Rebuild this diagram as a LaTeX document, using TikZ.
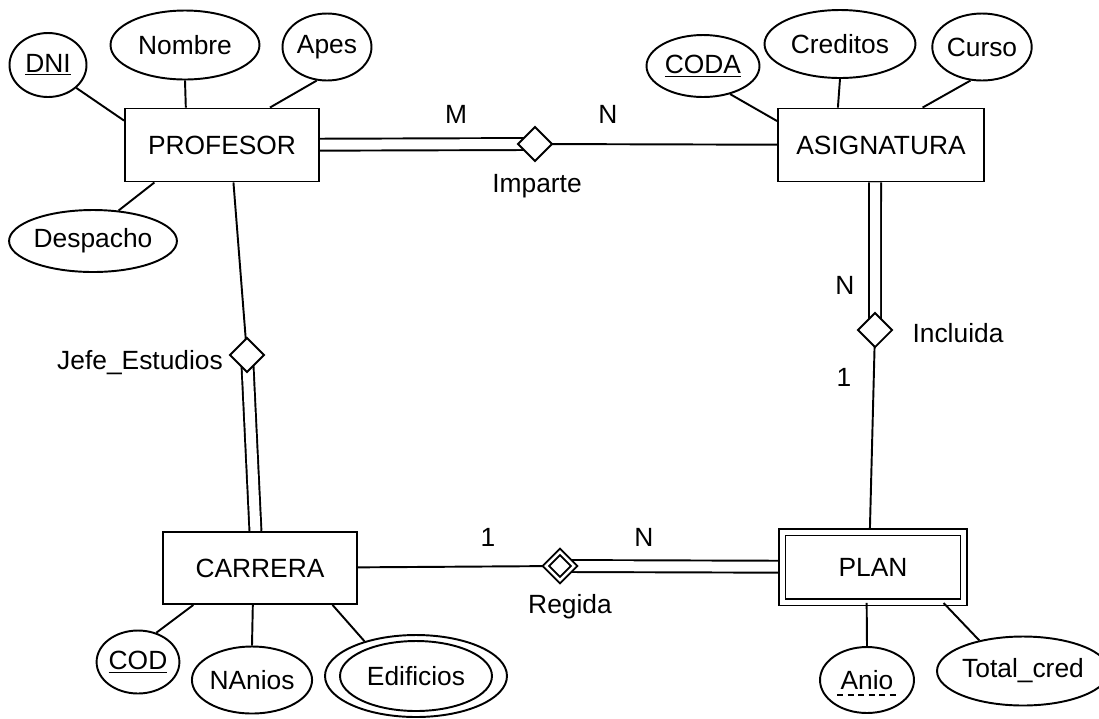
\documentclass[tikz,border=0pt]{standalone}
\usepackage{fontspec}
\setmainfont{Liberation Sans}
\usetikzlibrary{shapes.geometric,backgrounds}

\begin{document}
\begin{tikzpicture}[x=0.02cm,y=-0.02cm,line width=1.1pt,
  every node/.style={font=\fontsize{15}{18}\selectfont},
  entity/.style={draw,fill=white,rectangle,inner sep=0pt},
  attrib/.style={draw,fill=white,ellipse,inner sep=0pt},
  relation/.style={draw,fill=white,diamond,inner sep=0pt,minimum size=0.7cm},
  twoline/.style={double,double distance=0.2cm}]
\useasboundingbox (0,0) rectangle (1099,718);

% Entities
\node[entity,minimum width=3.88cm,minimum height=1.46cm] (profesor) at (222,145) {PROFESOR};
\node[entity,minimum width=4.12cm,minimum height=1.46cm] (asignatura) at (881,145) {ASIGNATURA};
\node[entity,minimum width=3.88cm,minimum height=1.44cm] (carrera) at (260,568) {CARRERA};
\node[entity,double,double distance=0.1cm,minimum width=3.64cm,minimum height=1.4cm] (plan) at (873,567) {PLAN};

% Relationships
\node[relation] (imparte) at (535,144) {};
\node[relation] (jefe) at (247,355) {};
\node[relation] (incluida) at (875,330) {};
\node[relation,double,double distance=0.05cm,minimum size=0.58cm] (regida) at (560,566) {};

% Attributes of PROFESOR
\node[attrib,minimum width=1.54cm,minimum height=1.28cm] (dni) at (48,65) {\underline{DNI}};
\node[attrib,minimum width=2.98cm,minimum height=1.38cm] (nombre) at (185,45) {Nombre};
\node[attrib,minimum width=1.78cm,minimum height=1.34cm] (apes) at (327,47) {Apes};
\node[attrib,minimum width=3.14cm,minimum height=1.24cm] (despacho) at (93,241) {Despacho};

% Attributes of ASIGNATURA
\node[attrib,minimum width=2.26cm,minimum height=1.24cm] (coda) at (703,66) {\underline{CODA}};
\node[attrib,minimum width=3.02cm,minimum height=1.36cm] (creditos) at (840,44) {Creditos};
\node[attrib,minimum width=1.84cm,minimum height=1.34cm] (curso) at (982,47) {Curso};

% Attributes of CARRERA
\node[attrib,minimum width=1.52cm,minimum height=1.26cm] (cod) at (138,662) {\underline{COD}};
\node[attrib,minimum width=2.38cm,minimum height=1.34cm] (nanios) at (252,680) {NAnios};
\node[attrib,minimum width=3.64cm,minimum height=1.64cm] (edificios) at (416,676) {Edificios};
\draw (edificios.center) ellipse [x radius=1.52cm, y radius=0.7cm];

% Attributes of PLAN
\node[attrib,minimum width=1.88cm,minimum height=1.32cm] (anio) at (867,680) {Anio};
\draw[dash pattern=on 3.5pt off 2.5pt] ([shift={(-30,15)}]anio.center) -- ([shift={(30,15)}]anio.center);
\node[attrib,minimum width=2.96cm,minimum height=1.38cm] (totalcred) at (1023,671) {Total\_cred};

% Relationship connectors
\begin{scope}[on background layer={line width=1.1pt}]
\draw[twoline] (profesor) -- (imparte.center);
\draw (imparte.center) -- (asignatura);
\draw (profesor.-73) -- (jefe.center);
\draw[twoline] (jefe.center) -- (carrera.97);
\draw[twoline] (asignatura.-99) -- (incluida.center);
\draw (incluida.center) -- (plan.95);
\draw (carrera) -- (regida.center);
\draw[twoline] (regida.center) -- (plan);
\end{scope}

% Attribute links
\draw (dni.-39) -- (profesor.166);
\draw (nombre.south) -- (profesor.134);
\draw (apes.-107) -- (profesor.38);
\draw (despacho.50) -- (profesor.209);
\draw (coda.-46) -- (asignatura.167);
\draw (creditos.south) -- (asignatura.139);
\draw (curso.-109) -- (asignatura.42);
\draw (cod.58) -- (carrera.209);
\draw (nanios.north) -- (carrera.-101);
\draw (edificios.146) -- (carrera.-27);
\draw (anio.north) -- (plan.-100);
\draw (totalcred.145) -- (plan.-27);

% Names and cardinalities
\node (imparteL) at (537,186) {Imparte};
\node (m1) at (456,114) {M};
\node (n1) at (608,114) {N};
\node (jefeL) at (140,363) {Jefe\_Estudios};
\node (incluidaL) at (958,333) {Incluida};
\node (n2) at (845,285) {N};
\node (one1) at (844,377) {1};
\node (regidaL) at (570,607) {Regida};
\node (one2) at (488,537) {1};
\node (n3) at (644,537) {N};

\end{tikzpicture}
\end{document}
